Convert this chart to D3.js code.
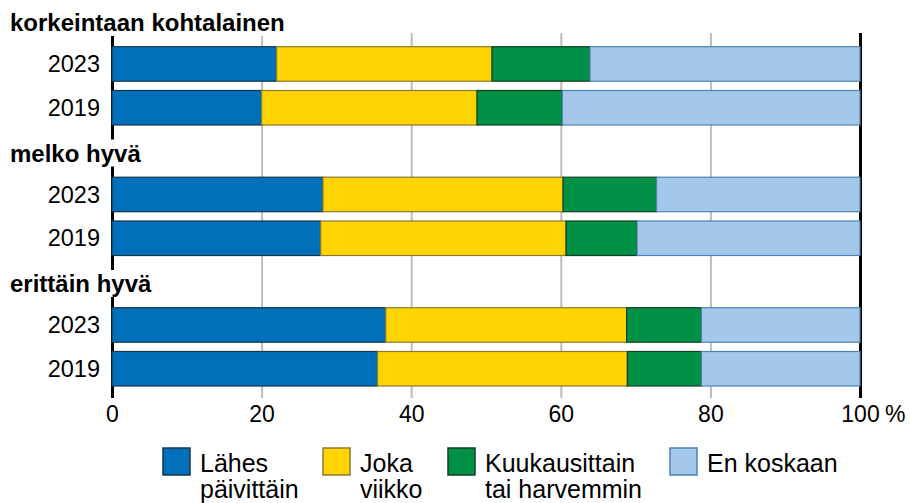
<!DOCTYPE html>
<html lang="fi">
<head>
<meta charset="UTF-8">
<title>Stacked bars</title>
<script src="https://d3js.org/d3.v7.min.js"></script>
<style>
  body { margin: 0; background: #fff; }
  text { font-family: "Liberation Sans", Arial, sans-serif; fill: #000; }
</style>
</head>
<body>
<div id="chart"></div>
<script>
// groups, years and categories
const groups = ["korkeintaan kohtalainen", "melko hyvä", "erittäin hyvä"];
const years = ["2023", "2019"];
const categories = ["Lähes päivittäin", "Joka viikko", "Kuukausittain tai harvemmin", "En koskaan"];
const legendLines = [["Lähes", "päivittäin"], ["Joka", "viikko"], ["Kuukausittain", "tai harvemmin"], ["En koskaan"]];
const xTicks = [0, 20, 40, 60, 80, 100];

// values per row, order: group x year (2023, 2019)
const lahesPaivittain = [22.0, 20.0, 28.2, 27.9, 36.6, 35.5];
const jokaViikko      = [28.8, 28.8, 32.1, 32.8, 32.2, 33.4];
const kuukausittain   = [13.1, 11.4, 12.5, 9.5, 10.0, 9.9];
const enKoskaan       = [36.1, 39.8, 27.2, 29.8, 21.2, 21.2];

const colors  = ["#0070ba", "#ffd400", "#009046", "#a3c8ea"];
const strokes = ["#17364c", "#8c7a2c", "#123f24", "#4d83b3"];

const width = 911, height = 503;

// build rows for the stack
const rows = [];
groups.forEach((g, gi) => {
    years.forEach((y, yi) => {
        const i = gi * years.length + yi;
        rows.push({
            group: g, year: y,
            [categories[0]]: lahesPaivittain[i],
            [categories[1]]: jokaViikko[i],
            [categories[2]]: kuukausittain[i],
            [categories[3]]: enKoskaan[i]
        });
    });
});

const series = d3.stack().keys(categories)(rows);

const x = d3.scaleLinear().domain([0, 100]).range([112, 860]);
const gy = d3.scaleBand().domain(groups).range([40, 431.5]);
const yy = d3.scaleBand().domain(years).range([6.7, 85]).paddingInner(0.212);
const rowY = d => gy(d.group) + yy(d.year);

const svg = d3.select("#chart").append("svg")
    .attr("width", width)
    .attr("height", height);

// axis with gridlines
const axisY = 398;
const axis = svg.append("g")
    .attr("transform", `translate(0,${axisY})`)
    .call(d3.axisBottom(x).tickValues(xTicks).tickSize(-(axisY - 33)).tickPadding(8).tickFormat(d3.format("d")));
axis.select(".domain").remove();
axis.selectAll(".tick line")
    .attr("stroke", d => (d === 0 || d === 100) ? "#000" : "#bdbdbd")
    .attr("stroke-width", d => (d === 0 || d === 100) ? 3 : 2);
axis.selectAll(".tick text")
    .attr("font-size", 23)
    .attr("fill", "#000");
axis.append("text")
    .attr("x", x(100) + 25)
    .attr("y", 8)
    .attr("dy", "0.71em")
    .attr("font-size", 23)
    .attr("text-anchor", "start")
    .text("%");

// bars
svg.append("g")
  .selectAll("g")
  .data(series)
  .join("g")
    .attr("fill", (d, i) => colors[i])
    .attr("stroke", (d, i) => strokes[i])
  .selectAll("rect")
  .data(d => d)
  .join("rect")
    .attr("x", d => x(d[0]))
    .attr("y", d => rowY(d.data))
    .attr("width", d => x(d[1]) - x(d[0]))
    .attr("height", yy.bandwidth())
    .attr("stroke-width", 1.2);

// year labels
svg.append("g")
  .selectAll("text")
  .data(rows)
  .join("text")
    .attr("x", 100)
    .attr("y", d => rowY(d) + yy.bandwidth() / 2)
    .attr("dy", "0.35em")
    .attr("text-anchor", "end")
    .attr("font-size", 23.5)
    .text(d => d.year);

// group headers with white box behind
const headers = svg.append("g")
  .selectAll("g")
  .data(groups)
  .join("g");
headers.append("text")
    .attr("x", 10)
    .attr("y", d => gy(d) - 9)
    .attr("font-size", 24)
    .attr("font-weight", "bold")
    .text(d => d);
headers.each(function() {
    const t = d3.select(this).select("text");
    const b = t.node().getBBox();
    d3.select(this).insert("rect", "text")
        .attr("x", b.x - 2).attr("y", b.y)
        .attr("width", b.width + 4).attr("height", b.height)
        .attr("fill", "#fff");
});

// legend
const legendX = [163, 323, 448, 670];
const legend = svg.append("g")
  .selectAll("g")
  .data(categories)
  .join("g")
    .attr("transform", (d, i) => `translate(${legendX[i]},448)`);
legend.append("rect")
    .attr("width", 27).attr("height", 27)
    .attr("fill", (d, i) => colors[i])
    .attr("stroke", (d, i) => strokes[i])
    .attr("stroke-width", 1.5);
legend.append("text")
    .attr("x", 37)
    .attr("font-size", 25)
  .selectAll("tspan")
  .data((d, i) => legendLines[i])
  .join("tspan")
    .attr("x", 37)
    .attr("y", (d, j) => 24 + j * 26)
    .text(d => d);
</script>
</body>
</html>
